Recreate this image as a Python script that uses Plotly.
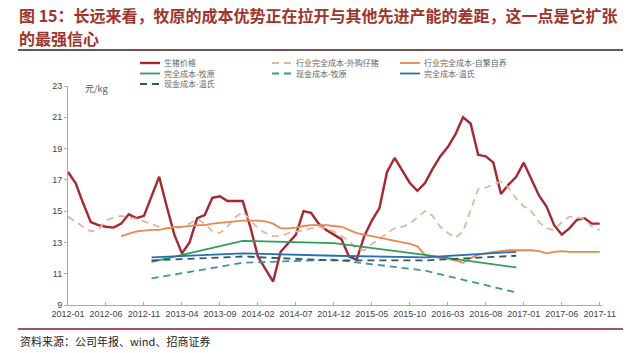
import plotly.graph_objects as go
import pandas as pd

# ---------------- data ----------------
months = [d.strftime("%Y-%m") for d in pd.date_range("2012-01-01", "2017-11-01", freq="MS")]
tick_labels = months[::5]

hog_price = [17.5, 16.8, 15.5, 14.3, 14.1, 14.0, 13.95, 14.2, 14.8, 14.55,
             14.7, 16.0, 17.2, 15.3, 13.5, 12.3, 13.0, 14.55, 14.75, 15.85,
             15.95, 15.65, 15.65, 15.65, 14.0, 12.1, 11.3, 10.5, 12.4, 12.95,
             13.5, 15.0, 14.9, 14.2, 13.8, 13.5, 13.2, 12.1, 11.9, 13.4,
             14.4, 15.2, 17.5, 18.4, 17.6, 16.8, 16.3, 16.8, 17.7, 18.5,
             19.1, 19.9, 21.0, 20.6, 18.6, 18.5, 18.1, 16.1, 16.7, 17.2,
             18.1, 17.1, 16.0, 15.3, 14.1, 13.5, 13.9, 14.45, 14.55, 14.2, 14.2]

industry_purchased = [14.65, 14.3, 14.0, 13.7, 13.8, 14.4, 14.6, 14.7, 14.6, 14.5,
                      14.35, 14.2, 14.0, 13.9, 13.9, 14.0, 14.2, 14.5, 14.2, 13.7,
                      13.6, 14.0, 14.6, 14.95, 14.4, 13.9, 13.6, 13.4, 13.4, 13.6,
                      13.7, 13.75, 13.9, 14.0, 13.9, 13.7, 13.4, 13.1, 12.6, 12.5,
                      12.9, 13.2, 13.6, 13.9, 14.0, 14.2, 14.6, 15.0, 14.7, 14.0,
                      13.6, 13.3, 13.7, 15.0, 16.4, 16.5, 16.7, 16.9, 16.5, 15.8,
                      15.3, 15.0, 14.3, 13.9, 13.8, 14.3, 14.65, 14.6, 14.5, 14.0, 13.8]

industry_selfbred = [None] * 7 + [
    13.4, 13.55, 13.7, 13.75, 13.8, 13.8, 13.9, 14.0, 14.0, 14.05,
    14.1, 14.1, 14.2, 14.25, 14.3, 14.35, 14.4, 14.4, 14.4, 14.35,
    14.2, 13.9, 13.9, 13.95, 14.05, 14.1, 14.1, 14.1, 14.05, 14.0,
    13.8, 13.6, 13.5, 13.4, 13.3, 13.2, 13.1, 13.0, 12.9, 12.75,
    12.2, 12.1, 12.0, 11.95, 11.85, 11.7, 12.0, 12.2, 12.3, 12.4,
    12.45, 12.5, 12.5, 12.5, 12.5, 12.45, 12.3, 12.4, 12.45, 12.4,
    12.4, 12.4, 12.4, 12.4]

cost_dates = ["2012-12", "2013-12", "2014-12", "2015-12", "2016-12"]
muyuan_full = [11.75, 13.1, 12.95, 12.2, 11.4]
muyuan_cash = [10.7, 11.7, 11.9, 11.2, 9.8]
wens_full = [12.05, 12.3, 12.15, 12.05, 12.4]
wens_cash = [11.85, 12.1, 11.85, 11.85, 12.15]

title_lines = ["图 15：长远来看，牧原的成本优势正在拉开与其他先进产能的差距，这一点是它扩张",
               "的最强信心"]
source_text = "资料来源：公司年报、wind、招商证券"
unit_text = "元/kg"

series = [
    ("生猪价格", months, hog_price, "#a8262e", 2.4, "solid"),
    ("行业完全成本-外购仔猪", months, industry_purchased, "#e0b79c", 1.8, "7px,5px"),
    ("行业完全成本-自繁自养", months, industry_selfbred, "#e8894d", 1.8, "solid"),
    ("完全成本-牧原", cost_dates, muyuan_full, "#2e9e5b", 1.8, "solid"),
    ("现金成本-牧原", cost_dates, muyuan_cash, "#3a9a90", 1.8, "7px,5px"),
    ("完全成本-温氏", cost_dates, wens_full, "#2b6fae", 1.8, "solid"),
    ("现金成本-温氏", cost_dates, wens_cash, "#2f5870", 1.8, "7px,5px"),
]

# ---------------- figure ----------------
fig = go.Figure()
for name, xs, ys, color, w, dash in series:
    fig.add_trace(go.Scatter(x=xs, y=ys, mode="lines", name=name,
                             line=dict(color=color, width=w, dash=dash),
                             connectgaps=False, showlegend=False))

L, R, T, B = 68, 38, 86, 48
W, H = 640, 353
PW, PH = W - L - R, H - T - B


def px(x):
    return (x - L) / PW


def py(y):
    return (H - B - y) / PH


fig.update_layout(
    width=W, height=H,
    margin=dict(l=L, r=R, t=T, b=B),
    paper_bgcolor="white", plot_bgcolor="white",
    font=dict(family="Noto Sans CJK SC, Arial, sans-serif", color="#555"),
    xaxis=dict(type="category", categoryorder="array", categoryarray=months,
               range=[0, 70.3], tickvals=tick_labels, ticktext=tick_labels,
               showgrid=False, zeroline=False, showline=True,
               linecolor="#aaa", linewidth=1, ticks="inside", ticklen=3,
               tickcolor="#aaa", tickfont=dict(size=9, color="#444",
                                                family="Arial, Liberation Sans, sans-serif")),
    yaxis=dict(range=[9, 23], tickvals=list(range(9, 24, 2)), showgrid=False,
               zeroline=False, showline=True, linecolor="#aaa", linewidth=1,
               ticks="outside", ticklen=3, tickcolor="#aaa",
               tickfont=dict(size=9, color="#444",
                             family="Arial, Liberation Sans, sans-serif")),
)

annotations = []
shapes = []

# title (two separate lines)
title_color = "#a0342a"
for line_text, ly in zip(title_lines, [14.5, 38]):
    annotations.append(dict(xref="paper", yref="paper", x=px(18), y=py(ly),
                            xanchor="left", yanchor="middle", align="left",
                            showarrow=False, borderpad=0,
                            text="<b>" + line_text + "</b>",
                            font=dict(size=16, color=title_color,
                                      family="Noto Sans CJK SC, sans-serif")))
shapes.append(dict(type="line", xref="paper", yref="paper",
                   x0=px(18), x1=px(623), y0=py(50), y1=py(50),
                   line=dict(color="#3a1a18", width=1.5)))

# unit
annotations.append(dict(xref="paper", yref="paper", x=px(83), y=py(88),
                        xanchor="left", yanchor="middle", showarrow=False,
                        text=unit_text, font=dict(size=9, color="#555")))

# manual legend
legend_pos = [(140, 63), (272, 63), (400, 63),
              (140, 73.5), (272, 73.5), (400, 73.5),
              (140, 84)]
for (name, xs, ys, color, w, dash), (lx, ly) in zip(series, legend_pos):
    shapes.append(dict(type="line", xref="paper", yref="paper",
                       x0=px(lx), x1=px(lx + 20), y0=py(ly), y1=py(ly),
                       line=dict(color=color, width=w, dash=dash)))
    annotations.append(dict(xref="paper", yref="paper", x=px(lx + 23), y=py(ly),
                            xanchor="left", yanchor="middle", showarrow=False,
                            borderpad=0,
                            text=name, font=dict(size=8, color="#666")))

# bottom rule and source
shapes.append(dict(type="line", xref="paper", yref="paper",
                   x0=px(18), x1=px(623), y0=py(329), y1=py(329),
                   line=dict(color="#8b1a22", width=1.5)))
annotations.append(dict(xref="paper", yref="paper", x=px(18), y=py(341),
                        xanchor="left", yanchor="middle", showarrow=False,
                        text=source_text,
                        font=dict(size=11, color="#222",
                                  family="Noto Sans CJK SC, sans-serif")))

fig.update_layout(annotations=annotations, shapes=shapes)
fig.write_html("out.html")
